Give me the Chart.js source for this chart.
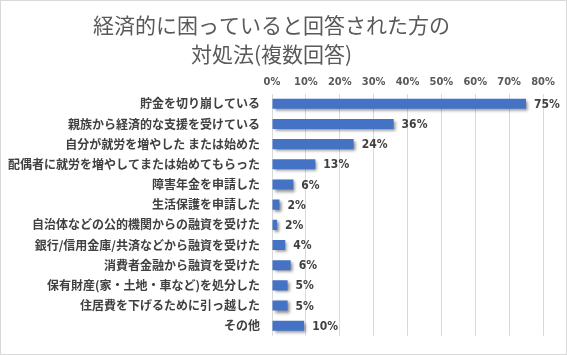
<!DOCTYPE html>
<html><head><meta charset="utf-8">
<script src="https://cdn.jsdelivr.net/npm/chart.js@4/dist/chart.umd.min.js"></script>
<style>html,body{margin:0;padding:0;background:#fff;overflow:hidden;}canvas{display:block;}</style>
</head><body>
<canvas id="c" width="567" height="355"></canvas>
<script>
const titleLines = ['経済的に困っていると回答された方の', '対処法(複数回答)'];
const categories = [
  '貯金を切り崩している',
  '親族から経済的な支援を受けている',
  '自分が就労を増やした または始めた',
  '配偶者に就労を増やしてまたは始めてもらった',
  '障害年金を申請した',
  '生活保護を申請した',
  '自治体などの公的機関からの融資を受けた',
  '銀行/信用金庫/共済などから融資を受けた',
  '消費者金融から融資を受けた',
  '保有財産(家・土地・車など)を処分した',
  '住居費を下げるために引っ越した',
  'その他'
];
const values = [75, 35.9, 24.1, 12.8, 6.3, 2.2, 1.5, 3.9, 5.5, 4.6, 4.6, 9.5];
const xTicks = [0, 10, 20, 30, 40, 50, 60, 70, 80];

const numFont = '"Liberation Sans Narrow", "DejaVu Sans Condensed", "Liberation Sans", sans-serif';
const jpFont = '"Noto Sans CJK JP", sans-serif';

const borderPlugin = {
  id: 'frame',
  beforeDraw(chart) {
    const ctx = chart.ctx;
    ctx.save();
    ctx.fillStyle = '#fff';
    ctx.fillRect(0, 0, chart.width, chart.height);
    ctx.strokeStyle = '#d9d9d9';
    ctx.lineWidth = 1;
    ctx.strokeRect(0.5, 0.5, chart.width - 1, chart.height - 1);
    ctx.restore();
  }
};
const shadowPlugin = {
  id: 'barShadow',
  beforeDatasetDraw(chart) {
    const ctx = chart.ctx;
    ctx.save();
    ctx.shadowColor = 'rgba(0,0,0,0.45)';
    ctx.shadowOffsetX = 2;
    ctx.shadowOffsetY = 2;
    ctx.shadowBlur = 3;
  },
  afterDatasetDraw(chart) {
    chart.ctx.restore();
  }
};
const labelPlugin = {
  id: 'valueLabels',
  afterDatasetsDraw(chart) {
    const ctx = chart.ctx;
    const meta = chart.getDatasetMeta(0);
    ctx.save();
    ctx.font = 'bold 12px ' + numFont;
    ctx.fillStyle = '#404040';
    ctx.textAlign = 'left';
    ctx.textBaseline = 'middle';
    meta.data.forEach((bar, i) => {
      ctx.fillText(Math.round(values[i]) + '%', bar.x + 8, bar.y + 1);
    });
    ctx.restore();
  }
};

new Chart(document.getElementById('c'), {
  type: 'bar',
  data: {
    labels: categories,
    datasets: [{
      data: values,
      backgroundColor: '#4472c4',
      borderWidth: 0,
      barPercentage: 0.5,
      categoryPercentage: 1.0
    }]
  },
  plugins: [borderPlugin, shadowPlugin, labelPlugin],
  options: {
    indexAxis: 'y',
    responsive: false,
    animation: false,
    devicePixelRatio: 1,
    layout: { padding: { left: 0, right: 24, top: 0, bottom: 15 } },
    plugins: {
      legend: { display: false },
      tooltip: { enabled: false },
      title: {
        display: true,
        text: titleLines,
        color: '#595959',
        font: { family: jpFont, size: 21, weight: 'normal', lineHeight: 1.35 },
        padding: { top: 11, bottom: 2 }
      }
    },
    scales: {
      x: {
        position: 'top',
        min: 0,
        max: 80,
        afterBuildTicks(scale) { scale.ticks = xTicks.map(v => ({ value: v })); },
        afterFit(scale) { scale.height = 24; },
        ticks: {
          color: '#595959',
          padding: 5,
          maxRotation: 0,
          font: { family: numFont, size: 11, weight: 'bold' },
          callback: v => v + '%'
        },
        grid: { color: '#d9d9d9', drawTicks: false, lineWidth: 1 },
        border: { display: false }
      },
      y: {
        afterFit(scale) { scale.width = 272; },
        ticks: {
          color: '#404040',
          padding: 12,
          autoSkip: false,
          font: { family: jpFont, size: 12, weight: 'bold' }
        },
        grid: { display: false, drawTicks: false },
        border: { display: false }
      }
    }
  }
});
</script>
</body></html>
